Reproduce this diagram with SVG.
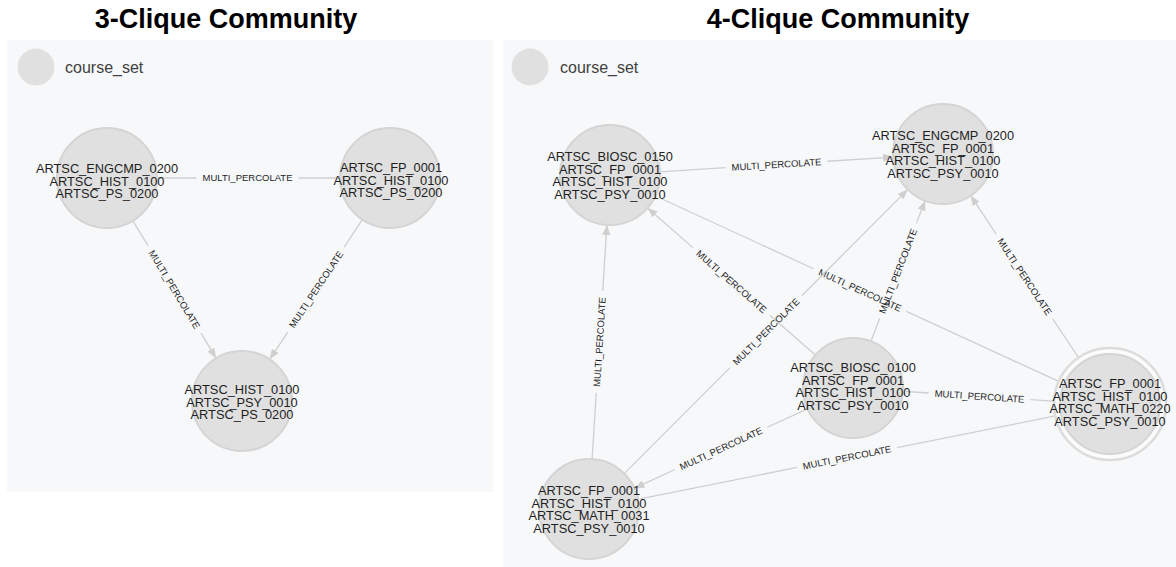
<svg xmlns="http://www.w3.org/2000/svg" width="1176" height="567" viewBox="0 0 1176 567">
  <defs>
    <marker id="arrow" viewBox="0 0 10 8" refX="10" refY="4" markerWidth="10" markerHeight="8" markerUnits="userSpaceOnUse" orient="auto">
      <path d="M0,0 L10,4 L0,8 z" fill="#cfcfcf"/>
    </marker>
  </defs>
  <style>
    .title{font-family:"Liberation Sans",Arial,sans-serif;font-weight:bold;font-size:27px;fill:#000;text-anchor:middle}
    .panel{fill:#f7f8fa}
    .legend-dot{fill:#e0e0e0}
    .legend-label{font-family:"Liberation Sans",Arial,sans-serif;font-size:16px;fill:#404040}
    .node circle.body{fill:#e0e0e0;stroke:#d4d4d4;stroke-width:2}
    .node circle.ring{fill:#fbfbfc;stroke:#dcdcdc;stroke-width:2.5}
    .node text{font-family:"Liberation Sans",Arial,sans-serif;font-size:12.8px;fill:#1e1e1e;text-anchor:middle}
    .rel line{stroke:#cfcfcf;stroke-width:1.3;fill:none;marker-end:url(#arrow)}
    .rel line.plain{marker-end:none}
    .rel text{font-family:"Liberation Sans",Arial,sans-serif;font-size:9.5px;fill:#1e1e1e;text-anchor:middle}
  </style>

  <!-- panels -->
  <rect class="panel" x="7" y="40" width="486" height="452"/>
  <rect class="panel" x="503" y="40" width="673" height="527"/>

  <!-- headings -->
  <text class="title" x="226" y="28">3-Clique Community</text>
  <text class="title" x="838" y="28">4-Clique Community</text>

  <!-- legends -->
  <g id="legend-left">
    <circle class="legend-dot" cx="36" cy="67" r="18.5"/>
    <text class="legend-label" x="65" y="73">course_set</text>
  </g>
  <g id="legend-right">
    <circle class="legend-dot" cx="530" cy="67" r="18.5"/>
    <text class="legend-label" x="560" y="73">course_set</text>
  </g>

  <!-- relationships (the arrowhead tip sits under a node caption where none is shown) -->
  <g id="connectors">
    <!-- 3-clique -->
    <g class="rel">
      <line class="plain" x1="157" y1="178" x2="338" y2="178" stroke-dasharray="39.5 102 400"/>
      <text transform="translate(247.5,178) rotate(0)" dy="3.4">MULTI_PERCOLATE</text>
    </g>
    <g class="rel">
      <line x1="132.9" y1="220.8" x2="216.1" y2="358.2" stroke-dasharray="29.4 102 400"/>
      <text transform="translate(174.5,289.5) rotate(58.8)" dy="3.4">MULTI_PERCOLATE</text>
    </g>
    <g class="rel">
      <line x1="362.3" y1="219.7" x2="269.7" y2="359.3" stroke-dasharray="32.8 102 400"/>
      <text transform="translate(316,289.5) rotate(-56.4)" dy="3.4">MULTI_PERCOLATE</text>
    </g>

    <!-- 4-clique -->
    <g class="rel">
      <line x1="659.9" y1="171.9" x2="893.1" y2="157.1" stroke-dasharray="65.9 102 600"/>
      <text transform="translate(776.5,164.5) rotate(-3.6)" dy="3.4">MULTI_PERCOLATE</text>
    </g>
    <g class="rel">
      <line x1="592.1" y1="459.1" x2="606.9" y2="224.9" stroke-dasharray="66.4 102 600"/>
      <text transform="translate(599.5,342) rotate(-86.4)" dy="3.4">MULTI_PERCOLATE</text>
    </g>
    <g class="rel">
      <line x1="815.4" y1="355.1" x2="647.6" y2="207.9" stroke-dasharray="60.6 102 600"/>
      <text transform="translate(731.5,281.5) rotate(41.2)" dy="3.4">MULTI_PERCOLATE</text>
    </g>
    <g class="rel">
      <line class="plain" x1="1058.2" y1="381.2" x2="662" y2="199" stroke-dasharray="167.1 102 600"/>
      <text transform="translate(860.1,290.1) rotate(24.7)" dy="3.4">MULTI_PERCOLATE</text>
    </g>
    <g class="rel">
      <line x1="624.3" y1="473.6" x2="907.7" y2="189.6" stroke-dasharray="149.7 102 600"/>
      <text transform="translate(766,331.6) rotate(-45.1)" dy="3.4">MULTI_PERCOLATE</text>
    </g>
    <g class="rel">
      <line x1="870.9" y1="341.3" x2="925.1" y2="200.7" stroke-dasharray="24.4 102 600"/>
      <text transform="translate(898,271) rotate(-69)" dy="3.4">MULTI_PERCOLATE</text>
    </g>
    <g class="rel">
      <line x1="1078.4" y1="357.5" x2="970.7" y2="195.6" stroke-dasharray="46.3 102 600"/>
      <text transform="translate(1024.6,276.6) rotate(56.4)" dy="3.4">MULTI_PERCOLATE</text>
    </g>
    <g class="rel">
      <line class="plain" x1="1053.1" y1="401.2" x2="906" y2="391.5" stroke-dasharray="22.7 102 600"/>
      <text transform="translate(979.5,396.4) rotate(3.8)" dy="3.4">MULTI_PERCOLATE</text>
    </g>
    <g class="rel">
      <line x1="807.5" y1="408.8" x2="634.5" y2="488.2" stroke-dasharray="44.2 102 600"/>
      <text transform="translate(721,448.5) rotate(-24.6)" dy="3.4">MULTI_PERCOLATE</text>
    </g>
    <g class="rel">
      <line class="plain" x1="1054.1" y1="416.2" x2="640" y2="498.8" stroke-dasharray="160.1 102 600"/>
      <text transform="translate(847,457.5) rotate(-11.3)" dy="3.4">MULTI_PERCOLATE</text>
    </g>
  </g>

  <!-- 3-clique nodes -->
  <g id="node-engcmp-hist-ps" class="node">
    <circle class="body" cx="107" cy="178" r="50"/>
    <text y="173"><tspan x="107">ARTSC_ENGCMP_0200</tspan><tspan x="107" dy="12.5">ARTSC_HIST_0100</tspan><tspan x="107" dy="12.5">ARTSC_PS_0200</tspan></text>
  </g>
  <g id="node-fp-hist-ps" class="node">
    <circle class="body" cx="390" cy="178" r="50"/>
    <text y="172"><tspan x="391">ARTSC_FP_0001</tspan><tspan x="391" dy="12.5">ARTSC_HIST_0100</tspan><tspan x="391" dy="12.5">ARTSC_PS_0200</tspan></text>
  </g>
  <g id="node-hist-psy-ps" class="node">
    <circle class="body" cx="242" cy="401" r="50"/>
    <text y="394"><tspan x="242">ARTSC_HIST_0100</tspan><tspan x="242" dy="12.5">ARTSC_PSY_0010</tspan><tspan x="242" dy="12.5">ARTSC_PS_0200</tspan></text>
  </g>

  <!-- 4-clique nodes -->
  <g id="node-biosc0150" class="node">
    <circle class="body" cx="610" cy="175" r="50"/>
    <text y="161"><tspan x="610">ARTSC_BIOSC_0150</tspan><tspan x="610" dy="12.5">ARTSC_FP_0001</tspan><tspan x="610" dy="12.5">ARTSC_HIST_0100</tspan><tspan x="610" dy="12.5">ARTSC_PSY_0010</tspan></text>
  </g>
  <g id="node-engcmp0200" class="node">
    <circle class="body" cx="943" cy="154" r="50"/>
    <text y="140"><tspan x="943">ARTSC_ENGCMP_0200</tspan><tspan x="943" dy="12.5">ARTSC_FP_0001</tspan><tspan x="943" dy="12.5">ARTSC_HIST_0100</tspan><tspan x="943" dy="12.5">ARTSC_PSY_0010</tspan></text>
  </g>
  <g id="node-biosc0100" class="node">
    <circle class="body" cx="853" cy="388" r="50"/>
    <text y="372"><tspan x="853">ARTSC_BIOSC_0100</tspan><tspan x="853" dy="12.5">ARTSC_FP_0001</tspan><tspan x="853" dy="12.5">ARTSC_HIST_0100</tspan><tspan x="853" dy="12.5">ARTSC_PSY_0010</tspan></text>
  </g>
  <g id="node-math0220" class="node">
    <circle class="ring" cx="1110" cy="404" r="56"/>
    <circle class="body" cx="1110" cy="404" r="50"/>
    <text y="388"><tspan x="1110">ARTSC_FP_0001</tspan><tspan x="1110" dy="12.5">ARTSC_HIST_0100</tspan><tspan x="1110" dy="12.5">ARTSC_MATH_0220</tspan><tspan x="1110" dy="12.5">ARTSC_PSY_0010</tspan></text>
  </g>
  <g id="node-math0031" class="node">
    <circle class="body" cx="589" cy="509" r="50"/>
    <text y="495"><tspan x="589">ARTSC_FP_0001</tspan><tspan x="589" dy="12.5">ARTSC_HIST_0100</tspan><tspan x="589" dy="12.5">ARTSC_MATH_0031</tspan><tspan x="589" dy="12.5">ARTSC_PSY_0010</tspan></text>
  </g>
</svg>
